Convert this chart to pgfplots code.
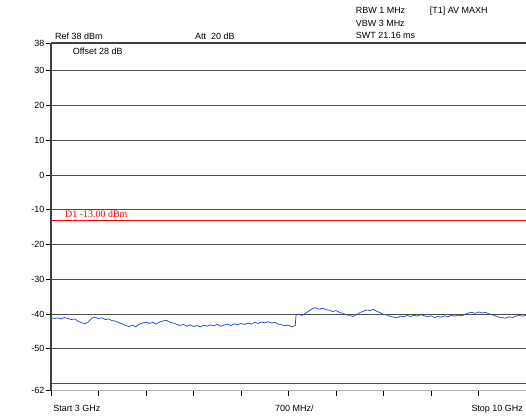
\documentclass[border=0pt]{standalone}
\usepackage{pgfplots}
\pgfplotsset{compat=1.18}
\usepackage{fontspec}
\setmainfont{Liberation Sans}
\newfontfamily\serif{Liberation Serif}
\definecolor{gridc}{RGB}{80,80,80}
\definecolor{trace}{RGB}{35,65,215}
\begin{document}
\begin{tikzpicture}[font=\fontsize{9}{10}\selectfont]
\begin{axis}[
    at={(0,0)}, anchor=south west,
    scale only axis,
    width=475bp, height=347.5bp,
    xmin=3, xmax=10, ymin=-62, ymax=38,
    axis line style={draw=none},
    clip=false,
    xtick={3,3.7,4.4,5.1,5.8,6.5,7.2,7.9,8.6,9.3,10},
    xticklabels={},
    ytick={38,30,20,10,0,-10,-20,-30,-40,-50,-62},
    yticklabels={38,30,20,10,0,-10,-20,-30,-40,-50,-62},
    tick pos=left,
    tick align=outside,
    major tick length=5bp,
    tick style={black, line width=0.8bp},
    yticklabel style={font=\fontsize{9}{10}\selectfont, inner sep=1.5bp},
]
% graticule
\foreach \v in {30,20,10,0,-10,-20,-30,-40,-50,-60} {
  \edef\tmp{\noexpand\draw[gridc, line width=1bp] (axis cs:3,\v) -- (axis cs:10,\v);}
  \tmp
}
\draw[black!75, line width=1.2bp] (axis cs:3,38) -- (axis cs:10,38);
\draw[black!30, line width=1bp] (axis cs:3,-62) -- (axis cs:10,-62);
\draw[black!75, line width=1.3bp] (axis cs:3,-62) -- (axis cs:3,38);
% display line D1
\addplot[red, line width=1bp] coordinates {(3,-13) (10,-13)};
% trace
\addplot[trace, line width=0.7bp] coordinates {
(3.00,-41.0) (3.05,-41.3) (3.10,-41.1) (3.15,-41.4) (3.20,-41.0) (3.25,-41.3)
(3.30,-41.6) (3.35,-41.4) (3.40,-42.1) (3.45,-42.5) (3.50,-42.8) (3.55,-42.3)
(3.60,-41.2) (3.65,-40.9) (3.70,-41.3) (3.75,-41.1) (3.80,-41.6) (3.85,-41.4)
(3.90,-41.9) (3.95,-42.0) (4.00,-42.5) (4.05,-42.8) (4.10,-43.3) (4.15,-43.6)
(4.20,-43.2) (4.25,-43.7) (4.30,-42.9) (4.35,-42.6) (4.40,-42.3) (4.45,-42.7)
(4.50,-42.4) (4.55,-42.9) (4.60,-42.3) (4.65,-42.0) (4.70,-41.8) (4.75,-42.3)
(4.80,-42.6) (4.85,-42.9) (4.90,-43.3) (4.95,-43.0) (5.00,-43.5) (5.05,-43.1)
(5.10,-43.6) (5.15,-43.3) (5.20,-43.7) (5.25,-43.2) (5.30,-43.5) (5.35,-43.1)
(5.40,-43.4) (5.45,-43.0) (5.50,-43.5) (5.55,-43.2) (5.60,-42.9) (5.65,-43.3)
(5.70,-42.8) (5.75,-43.1) (5.80,-42.7) (5.85,-43.0) (5.90,-42.6) (5.95,-42.9)
(6.00,-42.4) (6.05,-42.7) (6.10,-42.3) (6.15,-42.5) (6.20,-42.2) (6.25,-42.6)
(6.30,-42.4) (6.35,-42.9) (6.40,-43.1) (6.45,-43.4) (6.50,-43.2) (6.55,-43.7)
(6.60,-43.3) (6.61,-40.3) (6.65,-40.0) (6.70,-40.4) (6.75,-39.8) (6.80,-39.1)
(6.85,-38.5) (6.90,-38.2) (6.95,-38.6) (7.00,-38.3) (7.05,-38.7) (7.10,-38.9)
(7.15,-39.3) (7.20,-39.0) (7.25,-39.5) (7.30,-39.8) (7.35,-40.2) (7.40,-40.4)
(7.45,-40.7) (7.50,-40.2) (7.55,-39.6) (7.60,-39.2) (7.65,-38.8) (7.70,-39.0)
(7.75,-38.7) (7.80,-39.2) (7.85,-39.6) (7.90,-40.1) (7.95,-40.3) (8.00,-40.7)
(8.05,-40.9) (8.10,-41.1) (8.15,-40.6) (8.20,-40.8) (8.25,-40.4) (8.30,-40.7)
(8.35,-40.3) (8.40,-40.6) (8.45,-40.2) (8.50,-40.5) (8.55,-40.8) (8.60,-40.5)
(8.65,-41.0) (8.70,-40.7) (8.75,-40.9) (8.80,-40.5) (8.85,-40.8) (8.90,-40.4)
(8.95,-40.6) (9.00,-40.3) (9.05,-40.5) (9.10,-40.1) (9.15,-39.7) (9.20,-39.5)
(9.25,-39.8) (9.30,-39.4) (9.35,-39.7) (9.40,-39.5) (9.45,-39.9) (9.50,-40.2)
(9.55,-40.5) (9.60,-40.9) (9.65,-41.0) (9.70,-41.2) (9.75,-40.8) (9.80,-41.0)
(9.85,-40.6) (9.90,-40.4) (9.95,-40.6) (10.00,-40.4)
};
\end{axis}
% annotations (1bp = 1 reference pixel; origin at lower-left of the grid)
\node[anchor=base west, inner sep=0] at (4bp,350.5bp) {Ref 38 dBm};
\node[anchor=base west, inner sep=0] at (144bp,350.5bp) {Att\ \ 20 dB};
\node[anchor=base west, inner sep=0] at (304.7bp,376.5bp) {RBW 1 MHz};
\node[anchor=base west, inner sep=0] at (304.7bp,363.8bp) {VBW 3 MHz};
\node[anchor=base west, inner sep=0] at (304.7bp,351.5bp) {SWT 21.16 ms};
\node[anchor=base west, inner sep=0] at (378.7bp,376.5bp) {[T1] AV MAXH};
\node[anchor=base west, inner sep=0] at (21.7bp,335.5bp) {Offset 28 dB};
\node[anchor=base west, inner sep=0, text=red, font=\serif\fontsize{10}{11}\selectfont] at (14bp,172.5bp) {D1 -13.00 dBm};
\node[anchor=base west, inner sep=0] at (2.3bp,-21.2bp) {Start 3 GHz};
\node[anchor=base west, inner sep=0] at (224bp,-21.2bp) {700 MHz/};
\node[anchor=base west, inner sep=0] at (420.3bp,-21.2bp) {Stop 10 GHz};
\pgfresetboundingbox
\useasboundingbox (-51bp,-27.5bp) rectangle (475bp,390.5bp);
\end{tikzpicture}
\end{document}
